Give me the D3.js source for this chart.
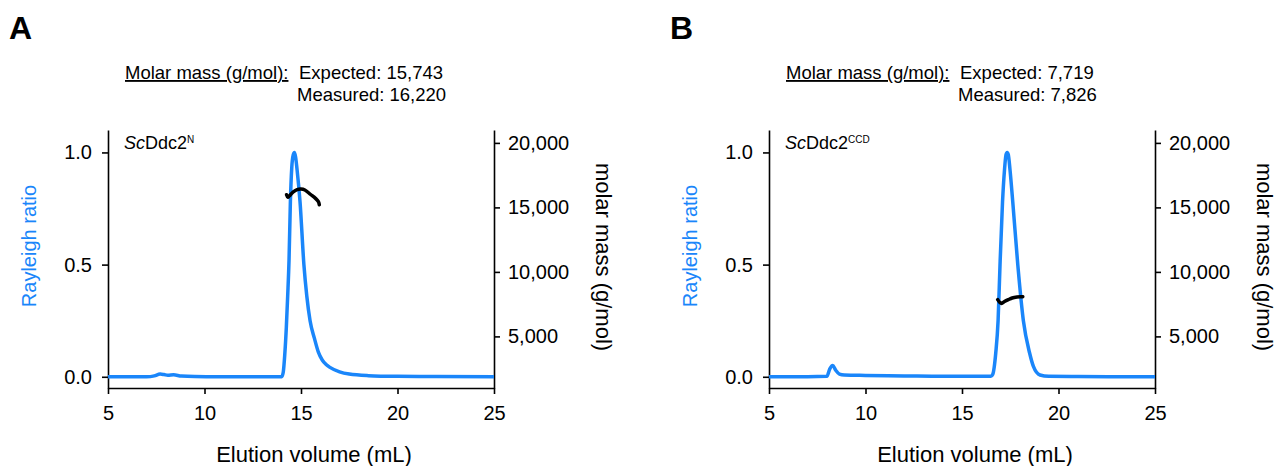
<!DOCTYPE html>
<html>
<head>
<meta charset="utf-8">
<script src="https://cdn.jsdelivr.net/npm/d3@7"></script>
<style>
  body { margin: 0; background: #fff; }
  svg { display: block; font-family: "Liberation Sans", Arial, sans-serif; }
  .axis path, .axis line { stroke: #000; stroke-width: 1.6; }
  .axis text { font-size: 20px; fill: #000; }
</style>
</head>
<body>
<svg id="chart" width="1277" height="466"></svg>
<script>
// tick values
const volTicks = [5, 10, 15, 20, 25];
const rrTicks = [0.0, 0.5, 1.0];
const massTicks = [5000, 10000, 15000, 20000];

// panel A : ScDdc2 N  (elution volume mL, Rayleigh ratio)
const volA = [5, 6, 7, 7.4, 7.7, 7.9, 8.1, 8.4, 8.8, 9.5, 12, 14.0, 14.08, 14.16, 14.24, 14.31, 14.38, 14.45, 14.52, 14.6, 14.66, 14.72, 14.8, 14.95, 15.15, 15.3, 15.47, 15.7, 15.9, 16.1, 16.3, 16.5, 17.0, 17.5, 18.5, 20, 22, 25];
const rrA = [0, 0, 0, 0.004, 0.012, 0.01, 0.007, 0.009, 0.003, 0.001, 0, 0, 0.02, 0.1, 0.22, 0.36, 0.52, 0.78, 0.93, 0.99, 1.0, 0.98, 0.92, 0.78, 0.5, 0.36, 0.25, 0.17, 0.11, 0.075, 0.055, 0.042, 0.022, 0.012, 0.005, 0.002, 0.001, 0];
const massVolA = [14.25, 14.32, 14.4, 14.6, 14.8, 15.0, 15.2, 15.5, 15.75, 15.9, 15.95];
const massA = [15980, 15780, 15900, 16200, 16380, 16420, 16350, 16000, 15700, 15450, 15200];

// panel B : ScDdc2 CCD
const volB = [5, 6, 7, 8.0, 8.15, 8.3, 8.45, 8.65, 8.9, 10, 12, 14, 16.5, 16.59, 16.75, 16.87, 16.97, 17.1, 17.2, 17.28, 17.34, 17.4, 17.49, 17.63, 17.89, 18.18, 18.5, 18.7, 19.04, 19.5, 21, 25];
const rrB = [0, 0, 0, 0.002, 0.035, 0.05, 0.03, 0.012, 0.008, 0.006, 0.004, 0.002, 0.002, 0.01, 0.107, 0.25, 0.5, 0.78, 0.92, 0.99, 1.0, 0.99, 0.92, 0.78, 0.5, 0.25, 0.107, 0.046, 0.008, 0.002, 0.001, 0];
const massVolB = [16.85, 16.95, 17.05, 17.2, 17.4, 17.6, 17.85, 18.1, 18.15];
const massB = [7850, 7650, 7560, 7700, 7850, 7980, 8050, 8070, 8080];

const panels = [
  { dx: 0, letter: "A", sup: "N", expected: "15,743", measured: "16,220", vol: volA, rr: rrA, mvol: massVolA, mass: massA },
  { dx: 661, letter: "B", sup: "CCD", expected: "7,719", measured: "7,826", vol: volB, rr: rrB, mvol: massVolB, mass: massB }
];

const blue = "#1a86fa";
const svg = d3.select("#chart");

const x = d3.scaleLinear().domain([5, 25]).range([108, 494]);
const yL = d3.scaleLinear().domain([-0.05, 1.1]).range([388, 130]);
const yR = d3.scaleLinear().domain([1000, 21000]).range([388, 130]);

panels.forEach(p => {
  const g = svg.append("g").attr("transform", `translate(${p.dx},0)`);

  // panel letter
  g.append("text").attr("x", 9).attr("y", 39)
    .attr("font-size", 32).attr("font-weight", "bold").text(p.letter);

  // molar mass note
  g.append("text").attr("x", 125).attr("y", 79).attr("font-size", 18.5)
    .attr("text-decoration", "underline").text("Molar mass (g/mol):");
  g.append("text").attr("x", 299).attr("y", 79).attr("font-size", 18.5)
    .text("Expected: " + p.expected);
  g.append("text").attr("x", 297).attr("y", 101).attr("font-size", 18.5)
    .text("Measured: " + p.measured);

  // axes
  g.append("g").attr("class", "axis")
    .attr("transform", "translate(0,388)")
    .call(d3.axisBottom(x).tickValues(volTicks).tickSize(6).tickPadding(12).tickSizeOuter(0));
  g.append("g").attr("class", "axis")
    .attr("transform", "translate(108,0)")
    .call(d3.axisLeft(yL).tickValues(rrTicks).tickFormat(d3.format(".1f")).tickSize(6).tickPadding(10).tickSizeOuter(0));
  g.append("g").attr("class", "axis")
    .attr("transform", "translate(494,0)")
    .call(d3.axisRight(yR).tickValues(massTicks).tickFormat(d3.format(",")).tickSize(6).tickPadding(8).tickSizeOuter(0));

  // axis titles
  g.append("text").attr("x", 314).attr("y", 462).attr("text-anchor", "middle")
    .attr("font-size", 22).text("Elution volume (mL)");
  g.append("text").attr("transform", "translate(36,246) rotate(-90)")
    .attr("text-anchor", "middle").attr("font-size", 20).attr("fill", blue).text("Rayleigh ratio");
  g.append("text").attr("transform", "translate(596,257) rotate(90)")
    .attr("text-anchor", "middle").attr("font-size", 22).text("molar mass (g/mol)");

  // sample label
  const lab = g.append("text").attr("x", 124).attr("y", 149).attr("font-size", 18);
  lab.append("tspan").attr("font-style", "italic").text("Sc");
  lab.append("tspan").text("Ddc2");
  lab.append("tspan").attr("font-size", 10).attr("dy", -6).text(p.sup);

  // Rayleigh trace
  const rrData = p.vol.map((v, i) => [v, p.rr[i]]);
  g.append("path").datum(rrData)
    .attr("fill", "none").attr("stroke", blue).attr("stroke-width", 3.5)
    .attr("stroke-linejoin", "round")
    .attr("d", d3.line().x(d => x(d[0])).y(d => yL(d[1])).curve(d3.curveMonotoneX));

  // molar mass trace
  const mData = p.mvol.map((v, i) => [v, p.mass[i]]);
  g.append("path").datum(mData)
    .attr("fill", "none").attr("stroke", "#000").attr("stroke-width", 3.5)
    .attr("stroke-linecap", "round")
    .attr("d", d3.line().x(d => x(d[0])).y(d => yR(d[1])).curve(d3.curveCatmullRom));
});
</script>
</body>
</html>
